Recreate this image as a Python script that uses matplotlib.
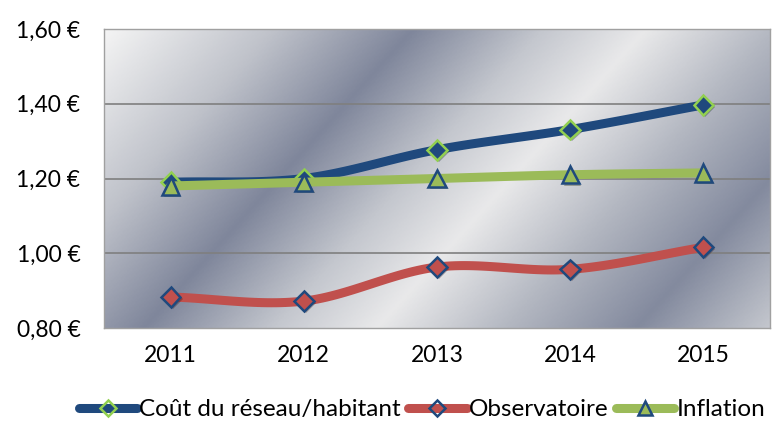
import numpy as np
import matplotlib
matplotlib.use('agg')
import matplotlib.pyplot as plt
from matplotlib.colors import LinearSegmentedColormap
import matplotlib.patheffects as pe

plt.rcParams['font.family'] = ['Lato', 'DejaVu Sans']

years = ['2011', '2012', '2013', '2014', '2015']
cout_reseau = [1.19, 1.20, 1.277, 1.331, 1.397]
observatoire = [0.883, 0.872, 0.963, 0.957, 1.016]
inflation = [1.18, 1.19, 1.20, 1.21, 1.215]
y_ticks = [0.80, 1.00, 1.20, 1.40, 1.60]


def smooth(xs, ys, n=30):
  # catmull-rom curve, like the "smoothed line" option of a spreadsheet
  xs = np.asarray(xs, float)
  ys = np.asarray(ys, float)
  px = np.concatenate([[2*xs[0]-xs[1]], xs, [2*xs[-1]-xs[-2]]])
  py = np.concatenate([[2*ys[0]-ys[1]], ys, [2*ys[-1]-ys[-2]]])
  out_x, out_y = [], []
  t = np.linspace(0, 1, n)
  for i in range(1, len(px) - 2):
    for p, out in ((px, out_x), (py, out_y)):
      p0, p1, p2, p3 = p[i-1], p[i], p[i+1], p[i+2]
      out.extend(0.5*((2*p1) + (-p0 + p2)*t + (2*p0 - 5*p1 + 4*p2 - p3)*t**2 + (-p0 + 3*p1 - 3*p2 + p3)*t**3))
  return np.array(out_x), np.array(out_y)


fig = plt.figure(figsize=(7.73, 4.21), dpi=100)
ax = fig.add_axes([104/773, 1 - 328/421, 666/773, 299/421])

# metallic background
metal = LinearSegmentedColormap.from_list('metal', [
  (0.0, '#f4f4f4'), (0.18, '#bfc2ca'), (0.33, '#7f869b'), (0.47, '#c4c7ce'),
  (0.58, '#e9e9ea'), (0.72, '#b3b7c1'), (0.86, '#838a9e'), (1.0, '#c3c6cd')])
gx, gy = np.meshgrid(np.linspace(0, 666, 400), np.linspace(0, 299, 200))
u = (gx + 0.9*gy) / (666 + 0.9*299)
ax.imshow(u, cmap=metal, extent=[0, 1, 0, 1], transform=ax.transAxes,
          aspect='auto', zorder=0, origin='upper')

ax.set_xlim(-0.5, 4.5)
ax.set_ylim(0.80, 1.60)
ax.set_yticks(y_ticks)
ax.set_yticklabels([('%.2f €' % v).replace('.', ',') for v in y_ticks])
ax.set_xticks(range(len(years)))
ax.set_xticklabels(years)
ax.tick_params(length=0, labelsize=16.5, colors='black')
ax.tick_params(axis='y', pad=17)
ax.tick_params(axis='x', pad=12)
for v in y_ticks[1:]:
  ax.axhline(v, color='#7f7f7f', lw=1.2, zorder=1)
for s in ax.spines.values():
  s.set_color('#a0a0a0')
  s.set_linewidth(1)

shadow = [pe.SimplePatchShadow(offset=(1.5, -1.5), alpha=0.35), pe.Normal()]
x = np.arange(len(years))
series = [
  (cout_reseau, '#1f497d', 'D', '#1f497d', '#92d050', 'Coût du réseau/habitant', 10),
  (observatoire, '#c0504d', 'D', '#c0504d', '#1f497d', 'Observatoire', 10),
  (inflation, '#9bbb59', '^', '#9bbb59', '#1f497d', 'Inflation', 12.5),
]
handles = []
for k, (vals, col, mk, face, edge, label, ms) in enumerate(series):
  sx, sy = smooth(x, vals)
  ax.plot(sx, sy, color=col, lw=6.5, solid_capstyle='round', zorder=3 + 2*k)
  ax.plot(x, vals, ls='none', marker=mk, ms=ms, mfc=face, mec=edge, mew=1.8,
          zorder=4 + 2*k, path_effects=shadow)
  h, = ax.plot([], [], color=col, lw=6.5, solid_capstyle='round', marker=mk,
               ms=ms*0.85, mfc='none' if mk == 'D' else face, mec=edge, mew=1.8, label=label)
  handles.append(h)

fig.legend(handles=handles, loc='center', bbox_to_anchor=(0.546, 0.027), ncol=3,
           frameon=False, fontsize=17.5, handlelength=2.4, handletextpad=0.1,
           columnspacing=0.3, borderaxespad=0)

fig.savefig('out.png', dpi=100)
